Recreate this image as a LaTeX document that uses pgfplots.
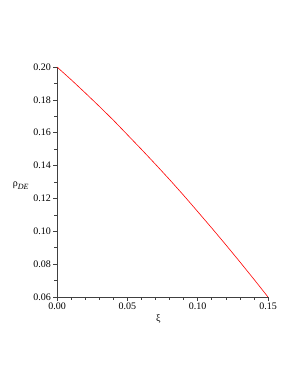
\documentclass[border=0pt]{standalone}
\usepackage{fontspec}
\setmainfont{Liberation Serif}
\usepackage{pgfplots}
\pgfplotsset{compat=1.18}
\begin{document}
\fontsize{10}{12}\selectfont
\begin{tikzpicture}
\useasboundingbox (-57pt,-88pt) rectangle (241pt,297pt);
\begin{axis}[
  at={(0pt,0pt)}, anchor=south west,
  scale only axis, width=211pt, height=230pt,
  xmin=0, xmax=0.15, ymin=0.06, ymax=0.20,
  axis lines=left,
  axis line style={-, line width=0.8pt, draw=black!75},
  xtick={0,0.05,0.10,0.15},
  xticklabels={0.00,0.05,0.10,0.15},
  ytick={0.06,0.08,0.10,0.12,0.14,0.16,0.18,0.20},
  yticklabels={0.06,0.08,0.10,0.12,0.14,0.16,0.18,0.20},
  minor xtick={0.01,0.02,0.03,0.04,0.06,0.07,0.08,0.09,0.11,0.12,0.13,0.14},
  minor ytick={0.07,0.09,0.11,0.13,0.15,0.17,0.19},
  tick align=outside,
  major tick length=3.5pt, minor tick length=2.5pt,
  tick style={draw=black!75, line width=0.6pt},
  tick label style={font=\fontsize{10}{12}\selectfont},
  xticklabel style={yshift=1pt},
  yticklabel style={xshift=1pt},
  xlabel={ξ}, ylabel={ρ\raisebox{-2.5pt}{\fontsize{8}{9}\selectfont\itshape DE}},
  xlabel style={at={(axis description cs:0.48,0)}, anchor=north, yshift=-14pt},
  ylabel style={rotate=-90, at={(axis description cs:0,0.485)}, anchor=east, xshift=-25pt},
]
\addplot[red, line width=0.6pt] coordinates {
(0,0.2000) (0.01,0.1923) (0.02,0.1843) (0.03,0.1761) (0.04,0.1677)
(0.05,0.1588) (0.06,0.1499) (0.07,0.1408) (0.08,0.1315) (0.09,0.1219)
(0.10,0.1120) (0.11,0.1020) (0.12,0.0918) (0.13,0.0814) (0.14,0.0708)
(0.15,0.0600)};
\end{axis}
\end{tikzpicture}
\end{document}
